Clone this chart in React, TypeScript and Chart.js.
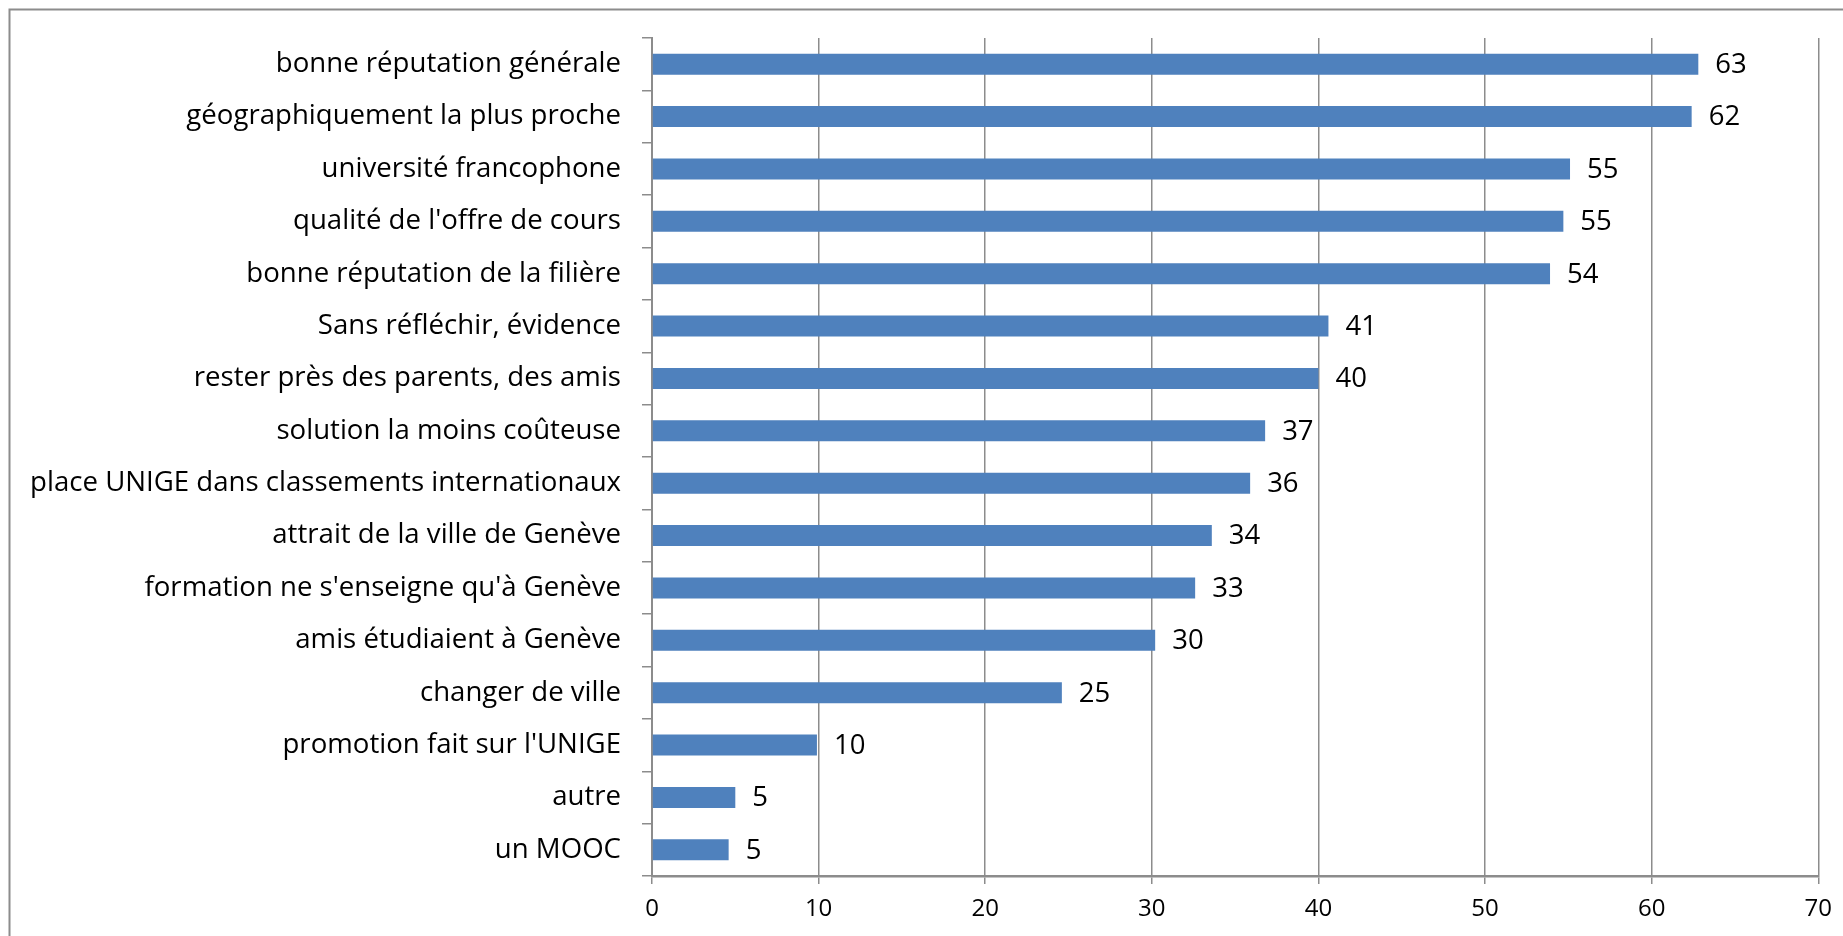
import React, { useEffect, useRef } from "react";
import { Chart, registerables } from "chart.js";

Chart.register(...registerables);

const categories: string[] = [
  "bonne réputation générale",
  "géographiquement la plus proche",
  "université francophone",
  "qualité de l'offre de cours",
  "bonne réputation de la filière",
  "Sans réfléchir, évidence",
  "rester près des parents, des amis",
  "solution la moins coûteuse",
  "place UNIGE dans classements internationaux",
  "attrait de la ville de Genève",
  "formation ne s'enseigne qu'à Genève",
  "amis étudiaient à Genève",
  "changer de ville",
  "promotion fait sur l'UNIGE",
  "autre",
  "un MOOC",
];

const values: number[] = [62.8, 62.4, 55.1, 54.7, 53.9, 40.6, 40.0, 36.8, 35.9, 33.6, 32.6, 30.2, 24.6, 9.9, 5.0, 4.6];

const valueLabels: string[] = ["63", "62", "55", "55", "54", "41", "40", "37", "36", "34", "33", "30", "25", "10", "5", "5"];

const xMin = 0;
const xMax = 70;
const xStep = 10;

const GRAY = "#8c8c8c";
const BAR = "#4F81BD";
const FONT = "'Open Sans', sans-serif";

export default function App() {
  const ref = useRef<HTMLCanvasElement | null>(null);

  useEffect(() => {
    if (!ref.current) return;

    const frame = {
      id: "frame",
      beforeDraw(chart: any) {
        const ctx = chart.ctx;
        ctx.save();
        ctx.fillStyle = "#ffffff";
        ctx.fillRect(0, 0, chart.width, chart.height);
        ctx.strokeStyle = GRAY;
        ctx.lineWidth = 2;
        ctx.beginPath();
        ctx.moveTo(9.5, chart.height + 2);
        ctx.lineTo(9.5, 9.5);
        ctx.lineTo(chart.width + 2, 9.5);
        ctx.stroke();
        ctx.restore();
      },
    };

    const dataLabels = {
      id: "dataLabels",
      afterDatasetsDraw(chart: any) {
        const ctx = chart.ctx;
        const meta = chart.getDatasetMeta(0);
        ctx.save();
        ctx.font = `27.5px ${FONT}`;
        ctx.fillStyle = "#000000";
        ctx.textAlign = "left";
        ctx.textBaseline = "middle";
        meta.data.forEach((bar: any, i: number) => {
          ctx.fillText(valueLabels[i], bar.x + 17, bar.y + 1);
        });
        ctx.restore();
      },
    };

    const chart = new Chart(ref.current, {
      type: "bar",
      data: {
        labels: categories,
        datasets: [
          {
            data: values,
            backgroundColor: BAR,
            borderWidth: 0,
            categoryPercentage: 1,
            barPercentage: 0.4,
          },
        ],
      },
      options: {
        indexAxis: "y",
        animation: false,
        responsive: false,
        devicePixelRatio: 1,
        layout: { padding: { top: 38, right: 23, left: 0, bottom: 0 } },
        plugins: {
          legend: { display: false },
          tooltip: { enabled: false },
        },
        scales: {
          x: {
            type: "linear",
            min: xMin,
            max: xMax,
            ticks: {
              stepSize: xStep,
              color: "#000000",
              font: { family: FONT, size: 24 },
              padding: 11,
              maxRotation: 0,
            },
            grid: {
              color: GRAY,
              lineWidth: 1.5,
              tickLength: 8,
              drawTicks: true,
            },
            border: { color: GRAY, width: 2.5 },
            afterFit(scale: any) {
              scale.height = 60;
            },
          },
          y: {
            type: "category",
            ticks: {
              color: "#000000",
              font: { family: FONT, size: 27.6 },
              padding: 21,
              autoSkip: false,
            },
            grid: {
              offset: true,
              drawOnChartArea: false,
              color: GRAY,
              lineWidth: 1.5,
              tickLength: 10,
            },
            border: { color: GRAY, width: 2 },
            afterFit(scale: any) {
              scale.width = 652;
            },
          },
        },
      } as any,
      plugins: [frame, dataLabels],
    });

    return () => chart.destroy();
  }, []);

  return (
    <div style={{ position: "fixed", left: 0, top: 0, width: 1843, height: 936, overflow: "hidden", background: "#fff" }}>
      <canvas ref={ref} width={1843} height={936} />
    </div>
  );
}
